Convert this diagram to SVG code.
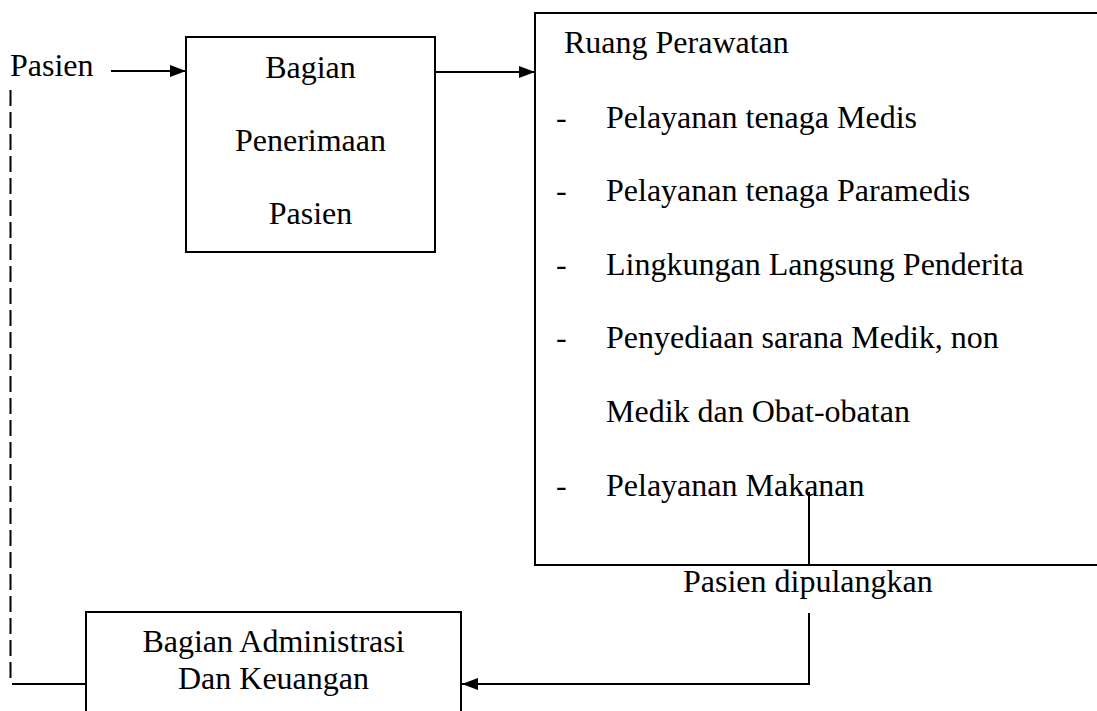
<svg xmlns="http://www.w3.org/2000/svg" width="1097" height="711" viewBox="0 0 1097 711">
<style>
text{font-family:"Liberation Serif","Times New Roman",serif;font-size:32px;fill:#000}
.box{fill:none;stroke:#000;stroke-width:2}
.ln{fill:none;stroke:#000;stroke-width:2}
.dash{fill:none;stroke:#000;stroke-width:2;stroke-dasharray:16 6}
.c{text-anchor:middle}
</style>
<defs>
<marker id="ah" markerWidth="16" markerHeight="12" refX="16" refY="6" orient="auto" markerUnits="userSpaceOnUse">
<path d="M0,0 L16,6 L0,12 Z" fill="#000"/>
</marker>
</defs>
<rect width="1097" height="711" fill="#fff"/>
<g id="pasien-label">
<text x="10" y="76">Pasien</text>
</g>
<g id="bagian-penerimaan">
<rect class="box" x="186" y="37" width="249" height="215"/>
<text class="c" x="310.5" y="78">Bagian</text>
<text class="c" x="310.5" y="151">Penerimaan</text>
<text class="c" x="310.5" y="224">Pasien</text>
</g>
<g id="ruang-perawatan">
<rect class="box" x="535" y="13" width="580" height="552"/>
<text x="564" y="53">Ruang Perawatan</text>
<text x="556" y="128">-</text><text x="606" y="128">Pelayanan tenaga Medis</text>
<text x="556" y="201">-</text><text x="606" y="201">Pelayanan tenaga Paramedis</text>
<text x="556" y="275">-</text><text x="606" y="275">Lingkungan Langsung Penderita</text>
<text x="556" y="348">-</text><text x="606" y="348">Penyediaan sarana Medik, non</text>
<text x="606" y="422">Medik dan Obat-obatan</text>
<text x="556" y="496">-</text><text x="606" y="496">Pelayanan Makanan</text>
</g>
<g id="bagian-administrasi">
<rect class="box" x="86" y="612" width="375" height="120"/>
<text class="c" x="273.5" y="652">Bagian Administrasi</text>
<text class="c" x="273.5" y="689">Dan Keuangan</text>
</g>
<g id="pasien-dipulangkan-label">
<text x="683" y="592">Pasien dipulangkan</text>
</g>
<g id="connectors">
<line class="ln" x1="111" y1="71" x2="186" y2="71" marker-end="url(#ah)"/>
<line class="ln" x1="435" y1="72" x2="535" y2="72" marker-end="url(#ah)"/>
<line class="ln" x1="809" y1="492" x2="809" y2="565"/>
<polyline class="ln" points="809,613 809,684 462,684" marker-end="url(#ah)"/>
<line class="dash" x1="10.5" y1="90" x2="10.5" y2="680"/>
<line class="ln" x1="12" y1="684" x2="86" y2="684"/>
</g>
</svg>
